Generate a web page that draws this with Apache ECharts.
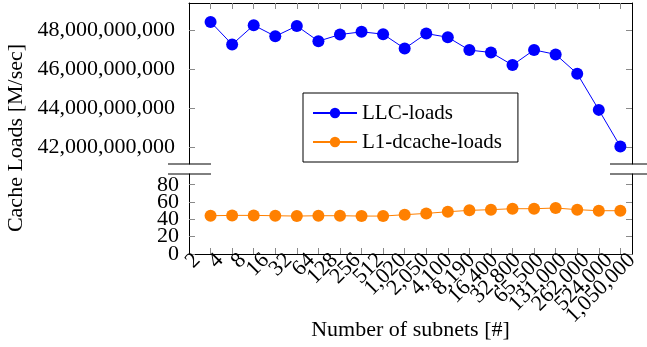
<!DOCTYPE html>
<html>
<head>
<meta charset="utf-8">
<script src="https://cdn.jsdelivr.net/npm/echarts@6/dist/echarts.min.js"></script>
<style>
html,body{margin:0;padding:0;background:#fff;}
#chart{width:647px;height:347px;}
</style>
</head>
<body>
<div id="chart"></div>
<script>
// ---- data ----
const categories = ['2','4','8','16','32','64','128','256','512','1,020','2,050','4,100','8,190','16,400','32,800','65,500','131,000','262,000','524,000','1,050,000'];
const llcLoads = [48.43e9, 47.27e9, 48.26e9, 47.69e9, 48.22e9, 47.44e9, 47.78e9, 47.92e9, 47.80e9, 47.06e9, 47.83e9, 47.64e9, 46.98e9, 46.86e9, 46.21e9, 46.99e9, 46.76e9, 45.77e9, 43.91e9, 42.03e9];
const l1Loads = [44.2, 44.6, 44.6, 44.2, 43.8, 44.2, 44.2, 43.8, 43.8, 45.4, 46.9, 48.8, 50.4, 51.2, 52.3, 52.3, 53.1, 51.2, 50.0, 50.0];
const topTicks = [42e9, 44e9, 46e9, 48e9];
const bottomTicks = [0, 20, 40, 60, 80];
const seriesNames = ['LLC-loads', 'L1-dcache-loads'];
const xTitle = 'Number of subnets [#]';
const yTitle = 'Cache Loads [M/sec]';

const FONT = "'Liberation Serif', 'Times New Roman', serif";
const idx = categories.map((_, i) => i);
const fmt = v => Math.round(v).toString().replace(/\B(?=(\d{3})+(?!\d))/g, ',');
// the stacked bottom labels touch each other; split them over two label layers so none is auto-hidden
const bottomEven = bottomTicks.filter((_, i) => i % 2 === 0);
const bottomOdd = bottomTicks.filter((_, i) => i % 2 === 1);

const tickStyle = {show: true, inside: true, length: 6, lineStyle: {color: '#8a8a8a', width: 1}};
const lineStyle = {show: true, onZero: false, lineStyle: {color: '#000', width: 1}};
const bottomLabel = {margin: 10, interval: 0, showMinLabel: true, showMaxLabel: true,
                     fontFamily: FONT, fontSize: 22, color: '#000'};

const chart = echarts.init(document.getElementById('chart'), null, {renderer: 'canvas'});
chart.setOption({
  animation: false,
  backgroundColor: '#fff',
  grid: [
    {left: 189, right: 15, top: 3, height: 161},
    {left: 189, right: 15, top: 174, height: 80},
    {left: 197, right: 15, top: 174, height: 80}
  ],
  xAxis: [
    {gridIndex: 0, type: 'value', position: 'top', min: -1, max: 19.54,
     axisLine: lineStyle, axisTick: Object.assign({customValues: idx}, tickStyle),
     axisLabel: {show: false}, splitLine: {show: false}},
    {gridIndex: 1, type: 'value', position: 'bottom', min: -1, max: 19.54,
     axisLine: lineStyle, axisTick: Object.assign({customValues: idx}, tickStyle),
     axisLabel: {show: false}, splitLine: {show: false},
     name: xTitle, nameLocation: 'middle', nameGap: 65,
     nameTextStyle: {fontFamily: FONT, fontSize: 22, color: '#000'}},
    {gridIndex: 2, type: 'category', data: categories, boundaryGap: false, position: 'bottom',
     axisLine: {show: false}, axisTick: {show: false}, splitLine: {show: false},
     axisLabel: {show: true, interval: 0, rotate: 45, margin: 3, hideOverlap: false,
                 fontFamily: FONT, fontSize: 22, color: '#000'}}
  ],
  yAxis: [
    {gridIndex: 0, type: 'value', position: 'left', min: 41.13e9, max: 49.4e9,
     axisLine: lineStyle, axisTick: Object.assign({customValues: topTicks}, tickStyle),
     axisLabel: {customValues: topTicks, formatter: fmt, margin: 14, fontFamily: FONT, fontSize: 22, color: '#000'},
     splitLine: {show: false}},
    {gridIndex: 0, type: 'value', position: 'right', min: 41.13e9, max: 49.4e9,
     axisLine: lineStyle, axisTick: Object.assign({customValues: topTicks}, tickStyle),
     axisLabel: {show: false}, splitLine: {show: false}},
    {gridIndex: 1, type: 'value', position: 'left', min: 0, max: 92.4,
     axisLine: lineStyle, axisTick: Object.assign({customValues: bottomTicks}, tickStyle),
     axisLabel: Object.assign({customValues: bottomEven}, bottomLabel),
     splitLine: {show: false}},
    {gridIndex: 1, type: 'value', position: 'right', min: 0, max: 92.4,
     axisLine: lineStyle, axisTick: Object.assign({customValues: bottomTicks}, tickStyle),
     axisLabel: {show: false}, splitLine: {show: false}},
    {gridIndex: 2, type: 'value', show: false},
    {gridIndex: 1, type: 'value', position: 'left', offset: 0, min: 0, max: 92.4,
     axisLine: {show: false}, axisTick: {show: false}, splitLine: {show: false},
     axisLabel: Object.assign({customValues: bottomOdd}, bottomLabel)}
  ],
  legend: {
    data: seriesNames, orient: 'vertical', left: 303, top: 93,
    itemWidth: 44, itemHeight: 13, itemGap: 7,
    padding: [9, 16, 9, 9],
    borderColor: '#000', borderWidth: 1, backgroundColor: '#fff', borderRadius: 0,
    textStyle: {fontFamily: FONT, fontSize: 21, lineHeight: 22, color: '#000'}
  },
  graphic: [
    {type: 'line', shape: {x1: 168, y1: 164, x2: 211, y2: 164}, style: {stroke: '#000', lineWidth: 1}},
    {type: 'line', shape: {x1: 168, y1: 174, x2: 211, y2: 174}, style: {stroke: '#000', lineWidth: 1}},
    {type: 'line', shape: {x1: 610, y1: 164, x2: 653, y2: 164}, style: {stroke: '#000', lineWidth: 1}},
    {type: 'line', shape: {x1: 610, y1: 174, x2: 653, y2: 174}, style: {stroke: '#000', lineWidth: 1}},
    {type: 'text', x: 16, y: 138, rotation: Math.PI / 2,
     style: {text: yTitle, font: '22px ' + FONT, fill: '#000', align: 'center', verticalAlign: 'middle'}}
  ],
  series: [
    {name: seriesNames[0], type: 'line', xAxisIndex: 0, yAxisIndex: 0,
     data: llcLoads.map((v, i) => [i, v]),
     color: '#0000ff', symbol: 'circle', symbolSize: 12,
     lineStyle: {width: 1, color: '#0000ff'}, itemStyle: {color: '#0000ff'}},
    {name: seriesNames[1], type: 'line', xAxisIndex: 1, yAxisIndex: 2,
     data: l1Loads.map((v, i) => [i, v]),
     color: '#ff8000', symbol: 'circle', symbolSize: 12,
     lineStyle: {width: 1, color: '#ff8000'}, itemStyle: {color: '#ff8000'}}
  ]
});
</script>
</body>
</html>
